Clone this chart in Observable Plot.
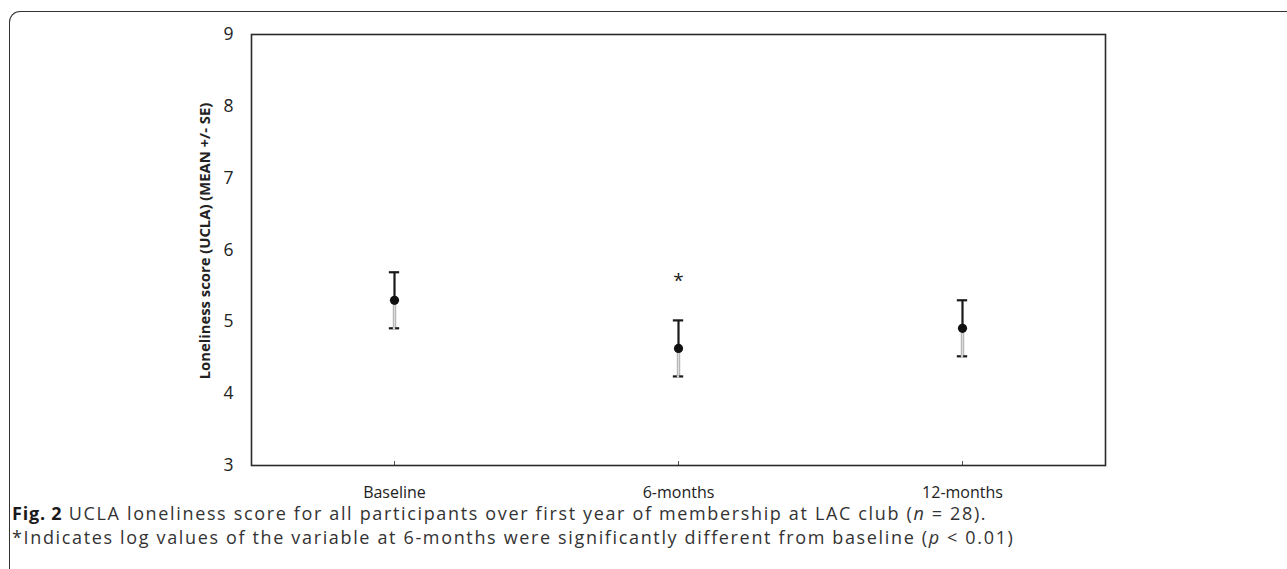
<!DOCTYPE html>
<html>
<head>
<meta charset="utf-8">
<script src="https://cdn.jsdelivr.net/npm/d3@7"></script>
<script src="https://cdn.jsdelivr.net/npm/@observablehq/plot@0.6"></script>
<style>
  html, body { margin: 0; padding: 0; background: #fff; }
  body { width: 1287px; height: 569px; position: relative; overflow: hidden; font-family: "Open Sans", sans-serif; }
  #box { position: absolute; left: 9px; top: 11px; width: 1290px; height: 570px;
         border-top: 1.6px solid #333; border-left: 1.6px solid #333; border-top-left-radius: 11px; }
  #chart { position: absolute; left: 0; top: 0; }
  #caption { position: absolute; left: 12px; top: 501px; font-size: 18px; line-height: 24px; color: #333; letter-spacing: 1.65px; white-space: nowrap; }
  #caption b { color: #1a1a1a; letter-spacing: 0.8px; }
</style>
</head>
<body>
<div id="box"></div>
<div id="chart"></div>
<div id="caption"><b>Fig. 2</b> UCLA loneliness score for all participants over first year of membership at LAC club (<i>n</i> = 28).<br>*Indicates log values of the variable at 6-months were significantly different from baseline (<i>p</i> &lt; 0.01)</div>
<script>
const categories = ["Baseline", "6-months", "12-months"];
const means = [5.30, 4.63, 4.91];
const se = [0.39, 0.39, 0.39];
const yTicks = [3, 4, 5, 6, 7, 8, 9];
const yTitle = "Loneliness score (UCLA) (MEAN +/- SE)";
const starCategory = "6-months";
const starValue = 5.57;

const data = categories.map((c, i) => ({cat: c, mean: means[i], lo: means[i] - se[i], hi: means[i] + se[i]}));

const W = 1287, H = 569;
const bandW = (1105 - 251) / categories.length;
const capInset = (bandW - 11) / 2;

const chart = Plot.plot({
  width: W,
  height: H,
  marginLeft: 251,
  marginRight: 182,
  marginTop: 34,
  marginBottom: 104,
  style: {fontFamily: "Open Sans", color: "#222", background: "transparent", overflow: "visible"},
  x: {domain: categories, padding: 0, label: null},
  y: {domain: [3, 9], label: null},
  marks: [
    Plot.axisY({ticks: yTicks, tickFormat: d => String(d), tickSize: 0, tickPadding: 18, fontSize: 17.5, label: null}),
    Plot.text([yTitle], {frameAnchor: "left", textAnchor: "middle", rotate: -90, dx: -46, dy: -9, text: d => d, fontSize: 14.8, fontWeight: "bold", fill: "#222"}),
    Plot.axisX({tickSize: -4, text: null, stroke: "#555"}),
    Plot.axisX({tickSize: 0, tickPadding: 21, fontSize: 16, label: null, style: {letterSpacing: "0.8px"}}),
    Plot.frame({stroke: "#2a2a2a", strokeWidth: 1.6}),
    Plot.ruleX(data, {x: "cat", y1: "lo", y2: "mean", stroke: "#a8a8a8", strokeWidth: 3.4}),
    Plot.ruleX(data, {x: "cat", y1: "lo", y2: "mean", stroke: "#dcdcdc", strokeWidth: 1.6}),
    Plot.ruleX(data, {x: "cat", y1: "mean", y2: "hi", stroke: "#1a1a1a", strokeWidth: 2.2}),
    Plot.tickY(data, {x: "cat", y: "hi", stroke: "#1a1a1a", strokeWidth: 2.2, insetLeft: capInset, insetRight: capInset}),
    Plot.tickY(data, {x: "cat", y: "lo", stroke: "#1a1a1a", strokeWidth: 2.2, insetLeft: capInset, insetRight: capInset}),
    Plot.tickY(data, {x: "cat", y: "lo", stroke: "#d8d8d8", strokeWidth: 2.4, insetLeft: capInset + 4, insetRight: capInset + 4}),
    Plot.dot(data, {x: "cat", y: "mean", r: 4.6, fill: "#111", stroke: "none"}),
    Plot.text([{cat: starCategory, v: starValue}], {x: "cat", y: "v", text: () => "*", fontSize: 19, fill: "#222"})
  ]
});
document.getElementById("chart").appendChild(chart);
</script>
</body>
</html>
